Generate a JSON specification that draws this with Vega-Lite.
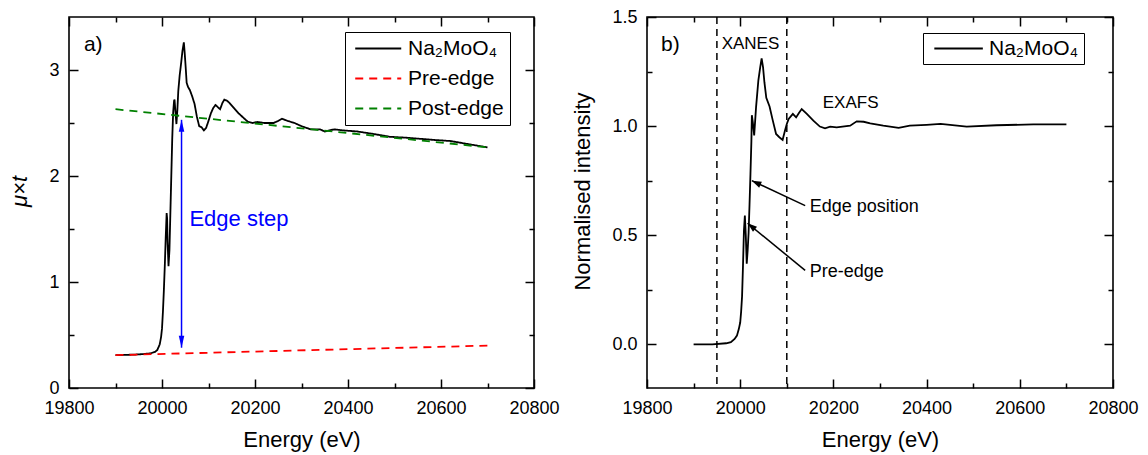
{
  "$schema": "https://vega.github.io/schema/vega-lite/v6.json",
  "padding": {"left": 8, "top": 7, "right": 5, "bottom": 5},
  "spacing": 11,
  "resolve": {"scale": {"color": "independent", "strokeDash": "independent"}, "legend": {"color": "independent", "strokeDash": "independent"}},
  "config": {
    "font": "Liberation Sans",
    "view": {"stroke": "black", "strokeWidth": 1.6},
    "axis": {"grid": false, "domain": false, "tickColor": "black", "tickWidth": 1.5, "labelColor": "black", "titleColor": "black", "titleFontWeight": "normal", "labelFlush": false, "labelOverlap": false}
  },
  "datasets": {
    "left": [
      {"E": 19900, "v": 0.31, "s": "Na₂MoO₄"},
      {"E": 19920, "v": 0.312, "s": "Na₂MoO₄"},
      {"E": 19940, "v": 0.315, "s": "Na₂MoO₄"},
      {"E": 19960, "v": 0.32, "s": "Na₂MoO₄"},
      {"E": 19975, "v": 0.327, "s": "Na₂MoO₄"},
      {"E": 19985, "v": 0.34, "s": "Na₂MoO₄"},
      {"E": 19990, "v": 0.36, "s": "Na₂MoO₄"},
      {"E": 19995, "v": 0.41, "s": "Na₂MoO₄"},
      {"E": 19998, "v": 0.48, "s": "Na₂MoO₄"},
      {"E": 20000, "v": 0.56, "s": "Na₂MoO₄"},
      {"E": 20002, "v": 0.72, "s": "Na₂MoO₄"},
      {"E": 20004, "v": 0.92, "s": "Na₂MoO₄"},
      {"E": 20006, "v": 1.15, "s": "Na₂MoO₄"},
      {"E": 20008, "v": 1.42, "s": "Na₂MoO₄"},
      {"E": 20010, "v": 1.65, "s": "Na₂MoO₄"},
      {"E": 20011, "v": 1.6, "s": "Na₂MoO₄"},
      {"E": 20012, "v": 1.38, "s": "Na₂MoO₄"},
      {"E": 20014, "v": 1.15, "s": "Na₂MoO₄"},
      {"E": 20016, "v": 1.3, "s": "Na₂MoO₄"},
      {"E": 20018, "v": 1.65, "s": "Na₂MoO₄"},
      {"E": 20020, "v": 2.0, "s": "Na₂MoO₄"},
      {"E": 20022, "v": 2.35, "s": "Na₂MoO₄"},
      {"E": 20024, "v": 2.6, "s": "Na₂MoO₄"},
      {"E": 20026, "v": 2.71, "s": "Na₂MoO₄"},
      {"E": 20027, "v": 2.72, "s": "Na₂MoO₄"},
      {"E": 20029, "v": 2.6, "s": "Na₂MoO₄"},
      {"E": 20031, "v": 2.49, "s": "Na₂MoO₄"},
      {"E": 20033, "v": 2.62, "s": "Na₂MoO₄"},
      {"E": 20035, "v": 2.8, "s": "Na₂MoO₄"},
      {"E": 20038, "v": 2.95, "s": "Na₂MoO₄"},
      {"E": 20041, "v": 3.06, "s": "Na₂MoO₄"},
      {"E": 20044, "v": 3.18, "s": "Na₂MoO₄"},
      {"E": 20047, "v": 3.26, "s": "Na₂MoO₄"},
      {"E": 20049, "v": 3.15, "s": "Na₂MoO₄"},
      {"E": 20051, "v": 3.02, "s": "Na₂MoO₄"},
      {"E": 20053, "v": 2.88, "s": "Na₂MoO₄"},
      {"E": 20056, "v": 2.84, "s": "Na₂MoO₄"},
      {"E": 20060, "v": 2.81, "s": "Na₂MoO₄"},
      {"E": 20065, "v": 2.75, "s": "Na₂MoO₄"},
      {"E": 20070, "v": 2.68, "s": "Na₂MoO₄"},
      {"E": 20075, "v": 2.56, "s": "Na₂MoO₄"},
      {"E": 20080, "v": 2.47, "s": "Na₂MoO₄"},
      {"E": 20085, "v": 2.46, "s": "Na₂MoO₄"},
      {"E": 20090, "v": 2.43, "s": "Na₂MoO₄"},
      {"E": 20095, "v": 2.455, "s": "Na₂MoO₄"},
      {"E": 20100, "v": 2.52, "s": "Na₂MoO₄"},
      {"E": 20105, "v": 2.59, "s": "Na₂MoO₄"},
      {"E": 20110, "v": 2.64, "s": "Na₂MoO₄"},
      {"E": 20115, "v": 2.67, "s": "Na₂MoO₄"},
      {"E": 20120, "v": 2.65, "s": "Na₂MoO₄"},
      {"E": 20125, "v": 2.63, "s": "Na₂MoO₄"},
      {"E": 20130, "v": 2.69, "s": "Na₂MoO₄"},
      {"E": 20134, "v": 2.72, "s": "Na₂MoO₄"},
      {"E": 20140, "v": 2.71, "s": "Na₂MoO₄"},
      {"E": 20145, "v": 2.69, "s": "Na₂MoO₄"},
      {"E": 20155, "v": 2.64, "s": "Na₂MoO₄"},
      {"E": 20165, "v": 2.59, "s": "Na₂MoO₄"},
      {"E": 20175, "v": 2.55, "s": "Na₂MoO₄"},
      {"E": 20185, "v": 2.51, "s": "Na₂MoO₄"},
      {"E": 20195, "v": 2.5, "s": "Na₂MoO₄"},
      {"E": 20205, "v": 2.51, "s": "Na₂MoO₄"},
      {"E": 20220, "v": 2.5, "s": "Na₂MoO₄"},
      {"E": 20240, "v": 2.5, "s": "Na₂MoO₄"},
      {"E": 20250, "v": 2.52, "s": "Na₂MoO₄"},
      {"E": 20258, "v": 2.54, "s": "Na₂MoO₄"},
      {"E": 20270, "v": 2.52, "s": "Na₂MoO₄"},
      {"E": 20285, "v": 2.5, "s": "Na₂MoO₄"},
      {"E": 20300, "v": 2.47, "s": "Na₂MoO₄"},
      {"E": 20320, "v": 2.44, "s": "Na₂MoO₄"},
      {"E": 20340, "v": 2.44, "s": "Na₂MoO₄"},
      {"E": 20350, "v": 2.42, "s": "Na₂MoO₄"},
      {"E": 20370, "v": 2.44, "s": "Na₂MoO₄"},
      {"E": 20390, "v": 2.43, "s": "Na₂MoO₄"},
      {"E": 20420, "v": 2.42, "s": "Na₂MoO₄"},
      {"E": 20450, "v": 2.4, "s": "Na₂MoO₄"},
      {"E": 20490, "v": 2.37, "s": "Na₂MoO₄"},
      {"E": 20530, "v": 2.36, "s": "Na₂MoO₄"},
      {"E": 20585, "v": 2.34, "s": "Na₂MoO₄"},
      {"E": 20620, "v": 2.33, "s": "Na₂MoO₄"},
      {"E": 20660, "v": 2.3, "s": "Na₂MoO₄"},
      {"E": 20700, "v": 2.27, "s": "Na₂MoO₄"},
      {"E": 19900, "v": 0.31, "s": "Pre-edge"},
      {"E": 20700, "v": 0.4, "s": "Pre-edge"},
      {"E": 19900, "v": 2.63, "s": "Post-edge"},
      {"E": 20700, "v": 2.27, "s": "Post-edge"}
    ],
    "right": [
      {"E": 19900, "v": 0.0, "s": "Na₂MoO₄"},
      {"E": 19940, "v": 0.0, "s": "Na₂MoO₄"},
      {"E": 19970, "v": 0.005, "s": "Na₂MoO₄"},
      {"E": 19980, "v": 0.01, "s": "Na₂MoO₄"},
      {"E": 19988, "v": 0.025, "s": "Na₂MoO₄"},
      {"E": 19993, "v": 0.04, "s": "Na₂MoO₄"},
      {"E": 19997, "v": 0.07, "s": "Na₂MoO₄"},
      {"E": 20000, "v": 0.1, "s": "Na₂MoO₄"},
      {"E": 20002, "v": 0.15, "s": "Na₂MoO₄"},
      {"E": 20004, "v": 0.22, "s": "Na₂MoO₄"},
      {"E": 20006, "v": 0.36, "s": "Na₂MoO₄"},
      {"E": 20008, "v": 0.52, "s": "Na₂MoO₄"},
      {"E": 20010, "v": 0.59, "s": "Na₂MoO₄"},
      {"E": 20012, "v": 0.5, "s": "Na₂MoO₄"},
      {"E": 20014, "v": 0.37, "s": "Na₂MoO₄"},
      {"E": 20016, "v": 0.43, "s": "Na₂MoO₄"},
      {"E": 20018, "v": 0.51, "s": "Na₂MoO₄"},
      {"E": 20020, "v": 0.64, "s": "Na₂MoO₄"},
      {"E": 20022, "v": 0.78, "s": "Na₂MoO₄"},
      {"E": 20024, "v": 0.93, "s": "Na₂MoO₄"},
      {"E": 20025, "v": 1.05, "s": "Na₂MoO₄"},
      {"E": 20027, "v": 1.02, "s": "Na₂MoO₄"},
      {"E": 20030, "v": 0.957, "s": "Na₂MoO₄"},
      {"E": 20034, "v": 1.086, "s": "Na₂MoO₄"},
      {"E": 20039, "v": 1.21, "s": "Na₂MoO₄"},
      {"E": 20043, "v": 1.27, "s": "Na₂MoO₄"},
      {"E": 20046, "v": 1.31, "s": "Na₂MoO₄"},
      {"E": 20049, "v": 1.27, "s": "Na₂MoO₄"},
      {"E": 20052, "v": 1.2, "s": "Na₂MoO₄"},
      {"E": 20056, "v": 1.13, "s": "Na₂MoO₄"},
      {"E": 20063, "v": 1.09, "s": "Na₂MoO₄"},
      {"E": 20070, "v": 1.025, "s": "Na₂MoO₄"},
      {"E": 20077, "v": 0.964, "s": "Na₂MoO₄"},
      {"E": 20084, "v": 0.949, "s": "Na₂MoO₄"},
      {"E": 20091, "v": 0.937, "s": "Na₂MoO₄"},
      {"E": 20096, "v": 0.979, "s": "Na₂MoO₄"},
      {"E": 20100, "v": 1.01, "s": "Na₂MoO₄"},
      {"E": 20104, "v": 1.033, "s": "Na₂MoO₄"},
      {"E": 20113, "v": 1.056, "s": "Na₂MoO₄"},
      {"E": 20120, "v": 1.04, "s": "Na₂MoO₄"},
      {"E": 20126, "v": 1.06, "s": "Na₂MoO₄"},
      {"E": 20132, "v": 1.078, "s": "Na₂MoO₄"},
      {"E": 20143, "v": 1.056, "s": "Na₂MoO₄"},
      {"E": 20157, "v": 1.025, "s": "Na₂MoO₄"},
      {"E": 20171, "v": 0.998, "s": "Na₂MoO₄"},
      {"E": 20182, "v": 0.99, "s": "Na₂MoO₄"},
      {"E": 20193, "v": 0.998, "s": "Na₂MoO₄"},
      {"E": 20207, "v": 0.994, "s": "Na₂MoO₄"},
      {"E": 20236, "v": 1.002, "s": "Na₂MoO₄"},
      {"E": 20250, "v": 1.022, "s": "Na₂MoO₄"},
      {"E": 20265, "v": 1.02, "s": "Na₂MoO₄"},
      {"E": 20279, "v": 1.013, "s": "Na₂MoO₄"},
      {"E": 20307, "v": 1.002, "s": "Na₂MoO₄"},
      {"E": 20340, "v": 0.992, "s": "Na₂MoO₄"},
      {"E": 20364, "v": 1.002, "s": "Na₂MoO₄"},
      {"E": 20400, "v": 1.006, "s": "Na₂MoO₄"},
      {"E": 20430, "v": 1.01, "s": "Na₂MoO₄"},
      {"E": 20486, "v": 0.998, "s": "Na₂MoO₄"},
      {"E": 20550, "v": 1.004, "s": "Na₂MoO₄"},
      {"E": 20629, "v": 1.008, "s": "Na₂MoO₄"},
      {"E": 20700, "v": 1.008, "s": "Na₂MoO₄"}
    ],
    "regions": [{"E": 19950}, {"E": 20100}],
    "stepArrow": [{"E": 20042, "v": 0.38, "v2": 2.53}],
    "stepTop": [{"E": 20042, "v": 2.53}],
    "stepBottom": [{"E": 20042, "v": 0.38}],
    "leftText": [{"E": 19832, "v": 3.236, "t": "a)"}],
    "stepText": [{"E": 20059, "v": 1.594, "t": "Edge step"}],
    "arrowsR": [
      {"E": 20139.4, "v": 0.636, "E2": 20025, "v2": 0.75},
      {"E": 20139.4, "v": 0.339, "E2": 20015.8, "v2": 0.555}
    ],
    "tipEdge": [{"E": 20025, "v": 0.75}],
    "tipPre": [{"E": 20015.8, "v": 0.555}],
    "rightTextL": [
      {"E": 20149, "v": 0.63, "t": "Edge position"},
      {"E": 20149, "v": 0.33, "t": "Pre-edge"}
    ],
    "rightTextC": [
      {"E": 20022, "v": 1.375, "t": "XANES"},
      {"E": 20237, "v": 1.105, "t": "EXAFS"}
    ],
    "panelB": [{"E": 19830, "v": 1.373, "t": "b)"}]
  },
  "hconcat": [
    {
      "width": 465,
      "height": 371,
      "resolve": {"axis": {"x": "independent", "y": "independent"}},
      "layer": [
        {
          "data": {"name": "left"},
          "mark": {"type": "line", "strokeWidth": 1.8},
          "encoding": {
            "x": {"field": "E", "type": "quantitative", "scale": {"domain": [19800, 20800], "nice": false, "zero": false},
              "axis": {"orient": "bottom", "values": [19800, 20000, 20200, 20400, 20600, 20800], "format": "d", "tickSize": -9, "labelFontSize": 18, "labelPadding": 20, "title": "Energy (eV)", "titleFontSize": 22, "titlePadding": 12}},
            "y": {"field": "v", "type": "quantitative", "scale": {"domain": [0, 3.5], "nice": false, "zero": false},
              "axis": {"orient": "left", "values": [0, 1, 2, 3], "tickSize": -9, "labelFontSize": 18, "labelPadding": 19, "title": "μ×t", "titleFontStyle": "italic", "titleFontSize": 22, "titlePadding": 17, "titleY": 174}},
            "color": {"field": "s", "type": "nominal", "sort": null,
              "scale": {"domain": ["Na₂MoO₄", "Pre-edge", "Post-edge"], "range": ["#000000", "#ff0000", "#008000"]},
              "legend": {"orient": "none", "legendX": 276, "legendY": 15, "title": null, "symbolType": "M-1.5,0L9.5,0", "symbolSize": 70, "symbolStrokeWidth": 1.8, "symbolStrokeColor": "black", "labelFontSize": 21, "labelOffset": 36, "padding": 6, "rowPadding": 8, "strokeColor": "black", "fillColor": "white", "labelColor": "black"}},
            "strokeDash": {"field": "s", "type": "nominal", "sort": null,
              "scale": {"domain": ["Na₂MoO₄", "Pre-edge", "Post-edge"], "range": [[1, 0], [8, 6], [8, 6]]},
              "legend": {"orient": "none", "legendX": 276, "legendY": 15, "title": null, "symbolType": "M-1.5,0L9.5,0", "symbolSize": 70, "symbolStrokeWidth": 1.8, "symbolStrokeColor": "black", "labelFontSize": 21, "labelOffset": 36, "padding": 6, "rowPadding": 8, "strokeColor": "black", "fillColor": "white", "labelColor": "black"}}
          }
        },
        {
          "data": {"name": "left"},
          "mark": {"type": "point", "opacity": 0},
          "encoding": {
            "x": {"field": "E", "type": "quantitative", "axis": {"orient": "bottom", "values": [19900, 20100, 20300, 20500, 20700], "tickSize": -5, "labels": false, "title": null}},
            "y": {"field": "v", "type": "quantitative", "axis": {"orient": "left", "values": [0.5, 1.5, 2.5], "tickSize": -5, "labels": false, "title": null}}
          }
        },
        {
          "data": {"name": "left"},
          "mark": {"type": "point", "opacity": 0},
          "encoding": {
            "x": {"field": "E", "type": "quantitative", "axis": {"orient": "top", "values": [19800, 20000, 20200, 20400, 20600, 20800], "tickSize": -9, "labels": false, "title": null}},
            "y": {"field": "v", "type": "quantitative", "axis": {"orient": "right", "values": [0, 1, 2, 3], "tickSize": -9, "labels": false, "title": null}}
          }
        },
        {
          "data": {"name": "left"},
          "mark": {"type": "point", "opacity": 0},
          "encoding": {
            "x": {"field": "E", "type": "quantitative", "axis": {"orient": "top", "values": [19900, 20100, 20300, 20500, 20700], "tickSize": -5, "labels": false, "title": null}},
            "y": {"field": "v", "type": "quantitative", "axis": {"orient": "right", "values": [0.5, 1.5, 2.5], "tickSize": -5, "labels": false, "title": null}}
          }
        },
        {
          "data": {"name": "stepArrow"},
          "mark": {"type": "rule", "color": "#0000ff", "strokeWidth": 1.5},
          "encoding": {
            "x": {"field": "E", "type": "quantitative", "axis": null},
            "y": {"field": "v", "type": "quantitative", "axis": null},
            "y2": {"field": "v2"}
          }
        },
        {
          "data": {"name": "stepTop"},
          "mark": {"type": "point", "shape": "M0,0L-0.55,2.4L0.55,2.4Z", "filled": true, "color": "#0000ff", "opacity": 1, "size": 100, "angle": 0, "strokeWidth": 0},
          "encoding": {
            "x": {"field": "E", "type": "quantitative", "axis": null},
            "y": {"field": "v", "type": "quantitative", "axis": null}
          }
        },
        {
          "data": {"name": "stepBottom"},
          "mark": {"type": "point", "shape": "M0,0L-0.55,2.4L0.55,2.4Z", "filled": true, "color": "#0000ff", "opacity": 1, "size": 100, "angle": 180, "strokeWidth": 0},
          "encoding": {
            "x": {"field": "E", "type": "quantitative", "axis": null},
            "y": {"field": "v", "type": "quantitative", "axis": null}
          }
        },
        {
          "data": {"name": "stepText"},
          "mark": {"type": "text", "align": "left", "baseline": "middle", "fontSize": 22, "color": "#0000ff"},
          "encoding": {
            "x": {"field": "E", "type": "quantitative", "axis": null},
            "y": {"field": "v", "type": "quantitative", "axis": null},
            "text": {"field": "t"}
          }
        },
        {
          "data": {"name": "leftText"},
          "mark": {"type": "text", "align": "left", "baseline": "middle", "fontSize": 21, "color": "black"},
          "encoding": {
            "x": {"field": "E", "type": "quantitative", "axis": null},
            "y": {"field": "v", "type": "quantitative", "axis": null},
            "text": {"field": "t"}
          }
        }
      ]
    },
    {
      "width": 466,
      "height": 371,
      "resolve": {"axis": {"x": "independent", "y": "independent"}},
      "layer": [
        {
          "data": {"name": "regions"},
          "mark": {"type": "rule", "color": "black", "strokeWidth": 1.5, "strokeDash": [7, 5]},
          "encoding": {
            "x": {"field": "E", "type": "quantitative", "scale": {"domain": [19800, 20800], "nice": false, "zero": false}, "axis": null}
          }
        },
        {
          "data": {"name": "right"},
          "mark": {"type": "line", "strokeWidth": 1.8},
          "encoding": {
            "x": {"field": "E", "type": "quantitative", "scale": {"domain": [19800, 20800], "nice": false, "zero": false},
              "axis": {"orient": "bottom", "values": [19800, 20000, 20200, 20400, 20600, 20800], "format": "d", "tickSize": -9, "labelFontSize": 18, "labelPadding": 20, "title": "Energy (eV)", "titleFontSize": 22, "titlePadding": 12}},
            "y": {"field": "v", "type": "quantitative", "scale": {"domain": [-0.2, 1.5], "nice": false, "zero": false},
              "axis": {"orient": "left", "values": [0, 0.5, 1, 1.5], "format": ".1f", "tickSize": -9, "labelFontSize": 18, "labelPadding": 19, "title": "Normalised intensity", "titleFontSize": 22, "titlePadding": 17, "titleY": 174}},
            "color": {"field": "s", "type": "nominal",
              "scale": {"domain": ["Na₂MoO₄"], "range": ["#000000"]},
              "legend": {"orient": "none", "legendX": 276, "legendY": 16, "title": null, "symbolType": "M-1,0L10.6,0", "symbolSize": 70, "symbolStrokeWidth": 1.8, "labelFontSize": 21, "labelOffset": 40, "padding": 5, "strokeColor": "black", "fillColor": "white", "labelColor": "black"}}
          }
        },
        {
          "data": {"name": "right"},
          "mark": {"type": "point", "opacity": 0},
          "encoding": {
            "x": {"field": "E", "type": "quantitative", "axis": {"orient": "bottom", "values": [19900, 20100, 20300, 20500, 20700], "tickSize": -5, "labels": false, "title": null}},
            "y": {"field": "v", "type": "quantitative", "axis": {"orient": "left", "values": [0.25, 0.75, 1.25], "tickSize": -5, "labels": false, "title": null}}
          }
        },
        {
          "data": {"name": "right"},
          "mark": {"type": "point", "opacity": 0},
          "encoding": {
            "x": {"field": "E", "type": "quantitative", "axis": {"orient": "top", "values": [19800, 20000, 20200, 20400, 20600, 20800], "tickSize": -9, "labels": false, "title": null}},
            "y": {"field": "v", "type": "quantitative", "axis": {"orient": "right", "values": [0, 0.5, 1, 1.5], "tickSize": -9, "labels": false, "title": null}}
          }
        },
        {
          "data": {"name": "right"},
          "mark": {"type": "point", "opacity": 0},
          "encoding": {
            "x": {"field": "E", "type": "quantitative", "axis": {"orient": "top", "values": [19900, 20100, 20300, 20500, 20700], "tickSize": -5, "labels": false, "title": null}},
            "y": {"field": "v", "type": "quantitative", "axis": {"orient": "right", "values": [0.25, 0.75, 1.25], "tickSize": -5, "labels": false, "title": null}}
          }
        },
        {
          "data": {"name": "arrowsR"},
          "mark": {"type": "rule", "color": "black", "strokeWidth": 1.5},
          "encoding": {
            "x": {"field": "E", "type": "quantitative", "axis": null},
            "y": {"field": "v", "type": "quantitative", "axis": null},
            "x2": {"field": "E2"},
            "y2": {"field": "v2"}
          }
        },
        {
          "data": {"name": "tipEdge"},
          "mark": {"type": "point", "shape": "M0,0L-0.8,2.4L0.8,2.4Z", "filled": true, "color": "black", "opacity": 1, "size": 64, "angle": 295, "strokeWidth": 0},
          "encoding": {
            "x": {"field": "E", "type": "quantitative", "axis": null},
            "y": {"field": "v", "type": "quantitative", "axis": null}
          }
        },
        {
          "data": {"name": "tipPre"},
          "mark": {"type": "point", "shape": "M0,0L-0.8,2.4L0.8,2.4Z", "filled": true, "color": "black", "opacity": 1, "size": 64, "angle": 309, "strokeWidth": 0},
          "encoding": {
            "x": {"field": "E", "type": "quantitative", "axis": null},
            "y": {"field": "v", "type": "quantitative", "axis": null}
          }
        },
        {
          "data": {"name": "rightTextL"},
          "mark": {"type": "text", "align": "left", "baseline": "middle", "fontSize": 18, "color": "black"},
          "encoding": {
            "x": {"field": "E", "type": "quantitative", "axis": null},
            "y": {"field": "v", "type": "quantitative", "axis": null},
            "text": {"field": "t"}
          }
        },
        {
          "data": {"name": "rightTextC"},
          "mark": {"type": "text", "align": "center", "baseline": "middle", "fontSize": 17, "color": "black"},
          "encoding": {
            "x": {"field": "E", "type": "quantitative", "axis": null},
            "y": {"field": "v", "type": "quantitative", "axis": null},
            "text": {"field": "t"}
          }
        },
        {
          "data": {"name": "panelB"},
          "mark": {"type": "text", "align": "left", "baseline": "middle", "fontSize": 21, "color": "black"},
          "encoding": {
            "x": {"field": "E", "type": "quantitative", "axis": null},
            "y": {"field": "v", "type": "quantitative", "axis": null},
            "text": {"field": "t"}
          }
        }
      ]
    }
  ]
}
